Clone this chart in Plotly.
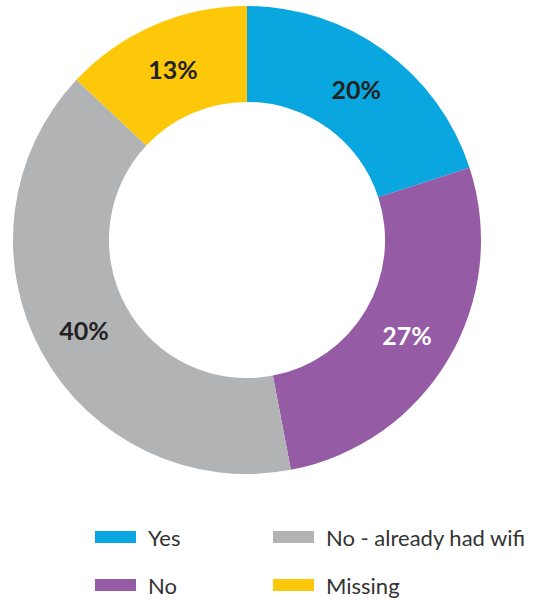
import plotly.graph_objects as go

# Survey outcome shares (percent)
categories = ["Yes", "No", "No - already had wifi", "Missing"]
shares = [20, 27, 40, 13]
colors = ["#0AA6DF", "#955BA5", "#B2B3B5", "#FEC80A"]
label_colors = ["#222222", "#FFFFFF", "#222222", "#222222"]

W, H = 541, 600
FONT = "Lato, 'Open Sans', sans-serif"

fig = go.Figure(go.Pie(
    labels=categories,
    values=shares,
    marker=dict(colors=colors, line=dict(width=0)),
    hole=0.59,
    sort=False,
    direction="clockwise",
    rotation=0,
    texttemplate="<b>%{value}%</b>",
    textposition="inside",
    insidetextorientation="horizontal",
    textfont=dict(family=FONT, size=25, color=label_colors),
    domain=dict(x=[13 / W, 481 / W], y=[1 - 474 / H, 1 - 6 / H]),
    showlegend=False,
))

# Two-column legend below the ring (column-major order)
legend_slots = [(95, 537), (95, 585), (273, 537), (273, 585)]
shapes, annotations = [], []
for (x0, yc), name, col in zip(legend_slots, categories, colors):
    shapes.append(dict(
        type="rect", xref="paper", yref="paper",
        x0=x0 / W, x1=(x0 + 41) / W,
        y0=1 - (yc + 6) / H, y1=1 - (yc - 6) / H,
        fillcolor=col, line=dict(width=0),
    ))
    annotations.append(dict(
        xref="paper", yref="paper", x=(x0 + 51) / W, y=1 - yc / H,
        text=name, showarrow=False, xanchor="left", yanchor="middle",
        font=dict(family=FONT, size=22, color="#333333"),
    ))

fig.update_layout(
    width=W, height=H,
    margin=dict(l=0, r=0, t=0, b=0),
    paper_bgcolor="white",
    plot_bgcolor="white",
    shapes=shapes,
    annotations=annotations,
)

fig.write_html("out.html")
